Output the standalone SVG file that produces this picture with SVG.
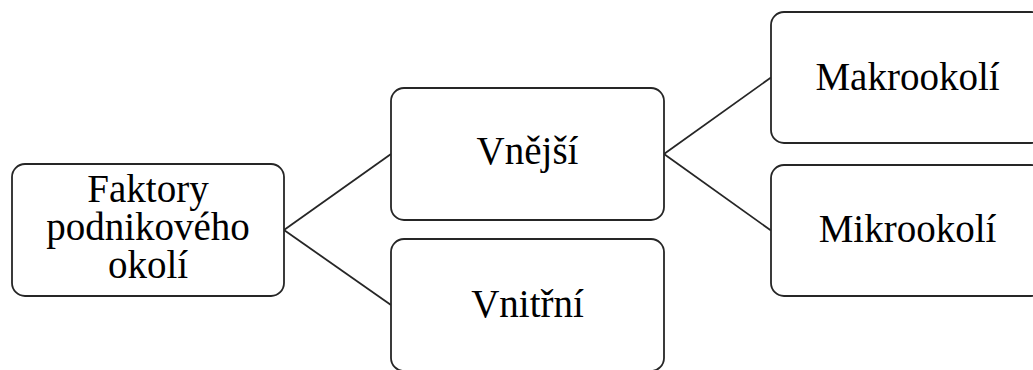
<svg xmlns="http://www.w3.org/2000/svg" width="1033" height="370" viewBox="0 0 1033 370">
<style>
.box{fill:#fff;stroke:#262626;stroke-width:1.8}
.t{font-family:"Liberation Serif","Times New Roman",serif;font-size:39px;fill:#000;text-anchor:middle}
.c{stroke:#262626;stroke-width:1.8;fill:none}
</style>
<rect width="1033" height="370" fill="#fff"/>
<g id="connectors">
<line class="c" x1="284" y1="230" x2="391" y2="154"/>
<line class="c" x1="284" y1="230" x2="391" y2="305"/>
<line class="c" x1="664" y1="154" x2="771" y2="77.5"/>
<line class="c" x1="664" y1="154" x2="771" y2="230.5"/>
</g>
<g id="faktory">
<rect class="box" x="12" y="164" width="272" height="132" rx="13"/>
<text class="t" x="148" y="202">Faktory<tspan x="148" dy="38">podnikového</tspan><tspan x="148" dy="38">okolí</tspan></text>
</g>
<g id="vnejsi">
<rect class="box" x="391" y="88" width="273" height="132" rx="13"/>
<text class="t" x="527.5" y="164">Vnější</text>
</g>
<g id="vnitrni">
<rect class="box" x="391" y="239" width="273" height="132" rx="13"/>
<text class="t" x="527.5" y="317">Vnitřní</text>
</g>
<g id="makrookoli">
<rect class="box" x="771" y="12" width="273" height="131" rx="13"/>
<text class="t" x="907.5" y="90">Makrookolí</text>
</g>
<g id="mikrookoli">
<rect class="box" x="771" y="165" width="273" height="131" rx="13"/>
<text class="t" x="907.5" y="242">Mikrookolí</text>
</g>
</svg>
